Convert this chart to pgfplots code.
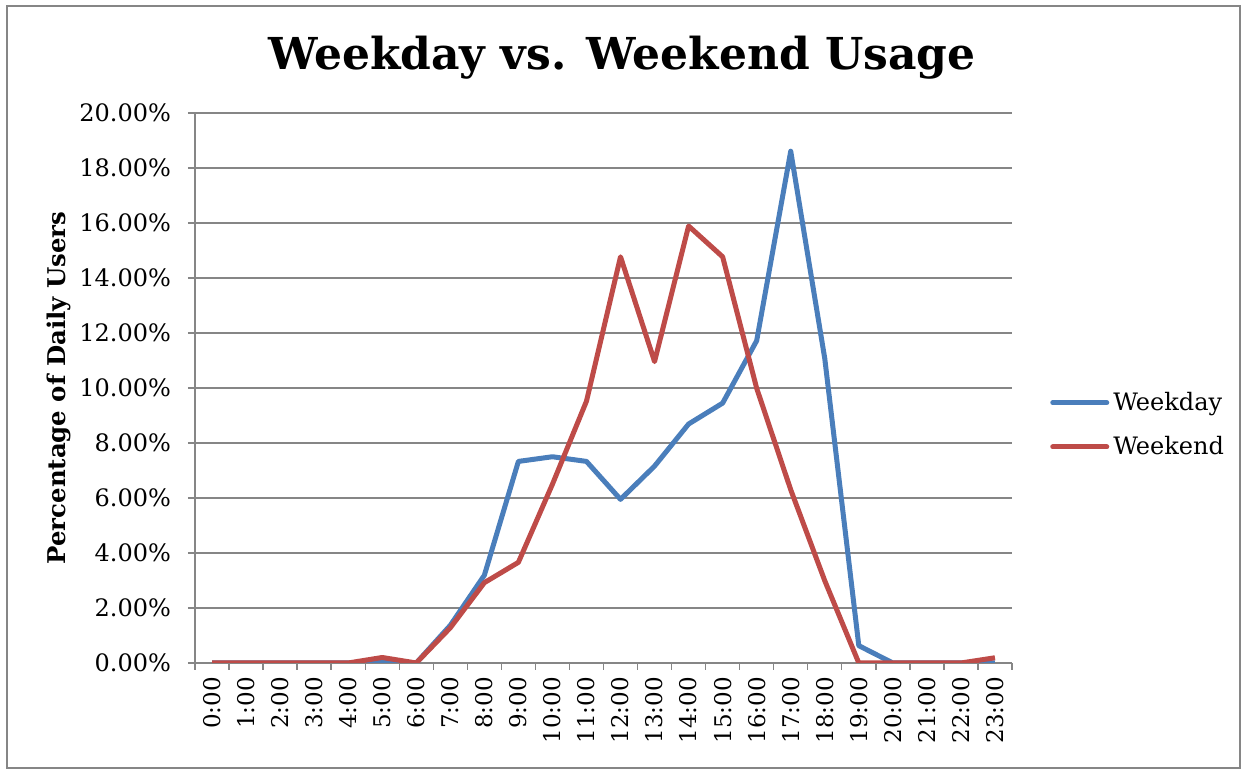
\documentclass[border=0pt]{standalone}
\usepackage{fontspec}
\setmainfont{DejaVu Serif}
\usepackage{pgfplots}
\pgfplotsset{compat=1.18}
\definecolor{wdblue}{HTML}{4A7EBB}
\definecolor{wered}{HTML}{BE4B48}
\definecolor{gridgray}{HTML}{868686}
\begin{document}
\begin{tikzpicture}
\begin{axis}[
  at={(97.5pt,53pt)}, anchor=south west,
  scale only axis, width=408.5pt, height=275pt,
  xmin=-0.5, xmax=23.5, ymin=0, ymax=20,
  axis lines*=left,
  axis line style={gridgray, line width=0.7pt},
  xtick={0,...,23},
  xticklabels={0:00,1:00,2:00,3:00,4:00,5:00,6:00,7:00,8:00,9:00,10:00,11:00,12:00,13:00,14:00,15:00,16:00,17:00,18:00,19:00,20:00,21:00,22:00,23:00},
  x tick label style={rotate=90, anchor=east, font=\fontsize{11.5}{13}\selectfont},
  major x tick style={draw=none},
  minor xtick={-0.5,0.5,...,23.5},
  minor x tick style={gridgray, line width=0.7pt},
  minor tick length=3.5pt,
  ytick={0,2,...,20},
  yticklabel={\pgfmathprintnumber[fixed,fixed zerofill,precision=2]{\tick}\%},
  /pgf/number format/assume math mode=true,
  y tick label style={font=\fontsize{12}{14}\selectfont, xshift=-5pt},
  ymajorgrids,
  grid style={gridgray, line width=0.7pt},
  major y tick style={gridgray, line width=0.7pt},
  major tick length=3.5pt,
  tick align=outside,
  tick pos=left,
  legend style={at={(1.039,0.433)}, anchor=west, draw=none, fill=none,
    font=\fontsize{12}{14}\selectfont, row sep=7.5pt,
    /tikz/every even column/.append style={column sep=1pt}},
  legend cell align=left,
  legend image code/.code={\draw[#1, line cap=round] (0pt,0pt) -- (27pt,0pt);},
]
\addplot[wdblue, line width=2.5pt, line join=round] coordinates {
(0,0) (1,0) (2,0) (3,0) (4,0) (5,0.05) (6,0) (7,1.37) (8,3.19) (9,7.33)
(10,7.50) (11,7.33) (12,5.95) (13,7.16) (14,8.69) (15,9.45) (16,11.72)
(17,18.61) (18,11.07) (19,0.63) (20,0) (21,0) (22,0) (23,0)};
\addlegendentry{Weekday}
\addplot[wered, line width=2.5pt, line join=round] coordinates {
(0,0) (1,0) (2,0) (3,0) (4,0) (5,0.20) (6,0) (7,1.28) (8,2.92) (9,3.66)
(10,6.50) (11,9.52) (12,14.77) (13,10.96) (14,15.89) (15,14.77) (16,9.99)
(17,6.30) (18,2.99) (19,0) (20,0) (21,0) (22,0) (23,0.19)};
\addlegendentry{Weekend}
\end{axis}
\node[font=\fontsize{22}{25}\selectfont\bfseries] at (311pt,355.5pt) {Weekday vs. Weekend Usage};
\node[rotate=90, font=\fontsize{12.2}{14}\selectfont\bfseries] at (29.5pt,190.5pt) {Percentage of Daily Users};
\pgfresetboundingbox
\draw[gridgray, line width=0.8pt] (3.5pt,0.5pt) rectangle (620pt,381.5pt);
\useasboundingbox (0,0) rectangle (622pt,384.5pt);
\end{tikzpicture}
\end{document}
